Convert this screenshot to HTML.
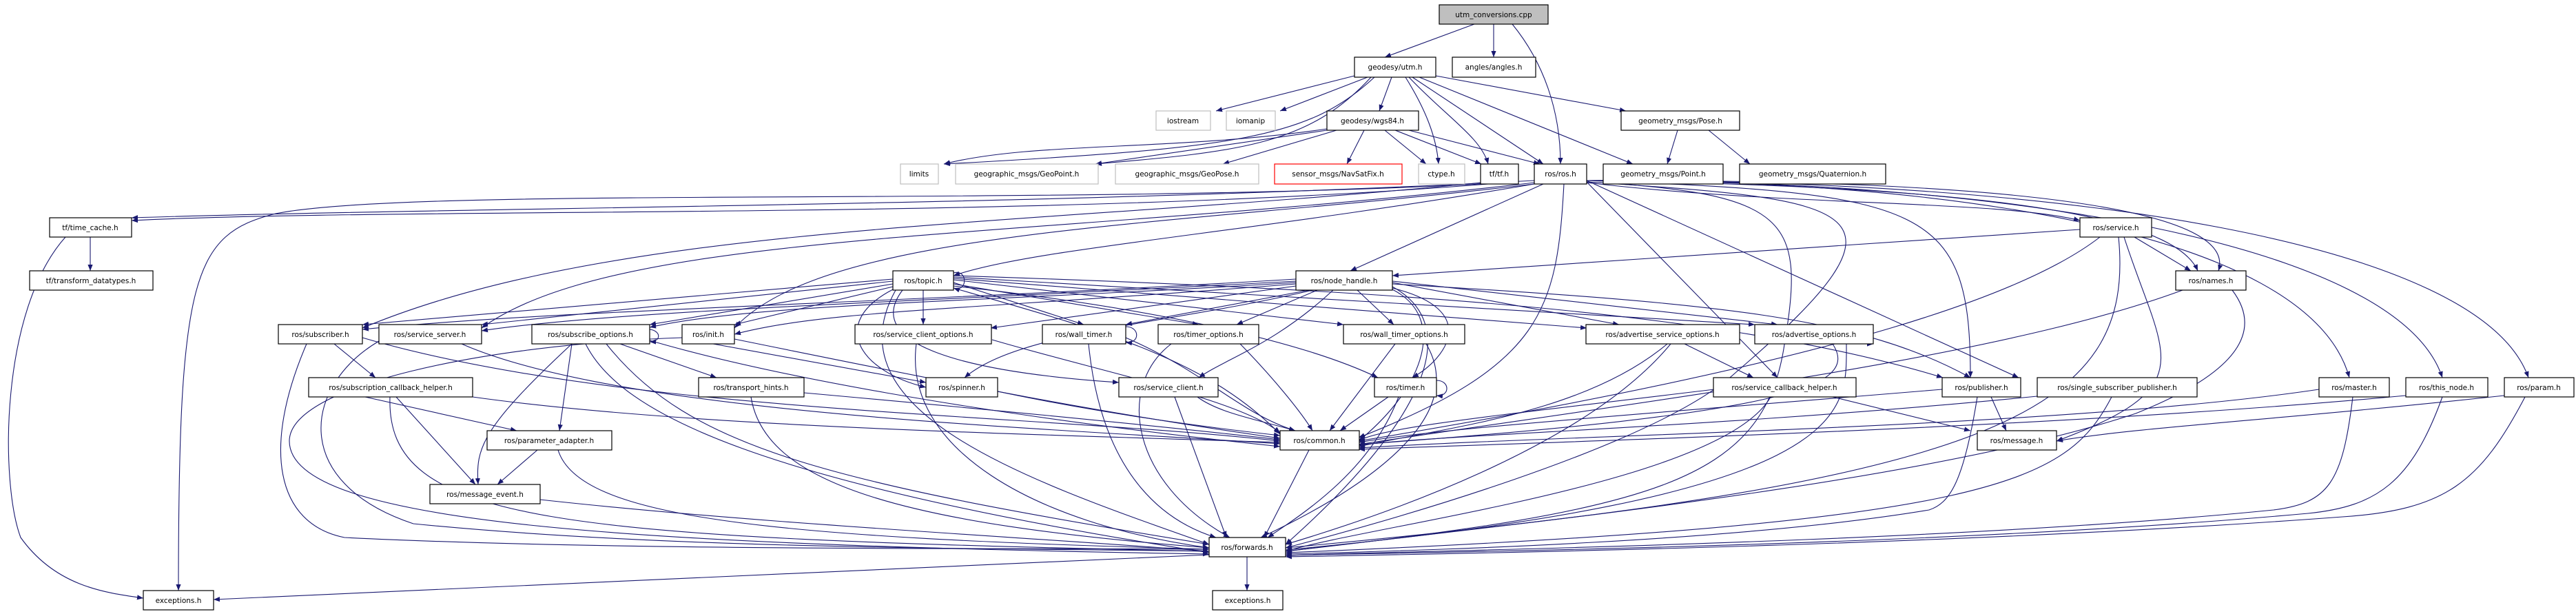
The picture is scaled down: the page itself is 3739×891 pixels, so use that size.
<!DOCTYPE html>
<html><head><meta charset="utf-8"><style>
html,body{margin:0;padding:0;background:#fff;}
svg{display:block;}
.n rect{fill:#fff;stroke:#000;stroke-width:1.2;}
.g rect{fill:#fff;stroke:#bfbfbf;stroke-width:1.2;}
.r rect{fill:#fff;stroke:#ff0000;stroke-width:1.2;}
text{font-family:"DejaVu Sans","Liberation Sans",sans-serif;font-size:10.5px;fill:#000;text-anchor:middle;}
.e path{fill:none;stroke:#191970;stroke-width:1.1;marker-end:url(#a);}
</style></head><body>
<svg width="3739" height="891" viewBox="0 0 3739 891" xmlns="http://www.w3.org/2000/svg">
<defs><marker id="a" viewBox="0 0 10 10" refX="10" refY="5" markerWidth="9" markerHeight="9" markerUnits="userSpaceOnUse" orient="auto"><path d="M0,1 L10,5 L0,9 z" fill="#191970"/></marker></defs>
<g class="e">
<path d="M2140 35 L2010 83"/>
<path d="M2168 35 L2168 83"/>
<path d="M2195 35 C2240 90 2265 160 2265 238"/>
<path d="M1966 110 L1765 161"/>
<path d="M1985 112 L1858 161"/>
<path d="M2020 112 L2002 161"/>
<path d="M1995 112 C1900 200 1800 215 1370 238"/>
<path d="M1990 112 C1900 210 1800 220 1590 238"/>
<path d="M2040 112 C2070 160 2085 200 2088 238"/>
<path d="M2045 112 C2100 170 2150 200 2160 238"/>
<path d="M2050 112 L2240 238"/>
<path d="M2060 112 L2370 238"/>
<path d="M2084 110 L2360 161"/>
<path d="M1926 187 C1700 220 1500 205 1370 238"/>
<path d="M1926 189 L1590 238"/>
<path d="M1940 189 L1775 238"/>
<path d="M1980 189 L1955 238"/>
<path d="M2010 189 L2070 238"/>
<path d="M2025 189 L2150 238"/>
<path d="M2045 189 L2235 238"/>
<path d="M2435 189 L2420 238"/>
<path d="M2480 189 L2540 238"/>
<path d="M2160 267 C1500 320 600 300 191 320"/>
<path d="M2150 267 C1500 300 600 270 400 310 C280 340 259 400 259 857"/>
<path d="M2150 265 C1500 330 900 320 526 476"/>
<path d="M2227 265 C1500 350 900 330 699 476"/>
<path d="M2227 267 C1700 330 1200 330 1066 476"/>
<path d="M2227 262 C1500 300 700 300 191 316"/>
<path d="M2240 267 L1960 393"/>
<path d="M2227 267 C1800 340 1500 360 1384 400"/>
<path d="M2303 265 C2600 300 2900 290 3019 320"/>
<path d="M2303 262 C2800 270 3150 300 3190 393"/>
<path d="M2303 262 C2900 260 3250 300 3220 393"/>
<path d="M2303 262 C2800 280 2860 300 2860 548"/>
<path d="M2303 262 L2930 548"/>
<path d="M2303 262 C2800 260 3350 330 3410 548"/>
<path d="M2303 262 C2900 260 3480 350 3545 548"/>
<path d="M2303 262 C3000 260 3600 350 3670 548"/>
<path d="M2270 267 C2260 450 2240 530 1972 635"/>
<path d="M2303 264 C2700 290 2800 300 2520 540 C2400 650 2000 760 1866 795"/>
<path d="M2303 264 L2580 548"/>
<path d="M2303 264 C2600 280 2620 320 2590 500 C2560 700 2400 740 1866 800"/>
<path d="M3019 333 L2021 400"/>
<path d="M3098 344 L3180 393"/>
<path d="M3048 344 C2950 420 2700 520 1972 640"/>
<path d="M3075 344 C3100 600 2900 700 1866 795"/>
<path d="M3083 344 C3140 520 3200 560 2985 640"/>
<path d="M3168 421 C2900 520 2400 580 1972 645"/>
<path d="M3240 421 C3300 500 3200 560 3100 600 C2800 700 2200 760 1866 800"/>
<path d="M1881 405 C1300 440 800 450 526 478"/>
<path d="M1881 408 C1300 440 900 450 699 480"/>
<path d="M1881 410 C1400 440 1100 440 943 475"/>
<path d="M1881 412 C1400 450 1200 450 1066 485"/>
<path d="M1881 415 L1438 476"/>
<path d="M1900 421 L1634 471"/>
<path d="M1912 421 L1795 471"/>
<path d="M1970 421 L2023 471"/>
<path d="M2021 410 L2350 471"/>
<path d="M2021 408 L2580 471"/>
<path d="M1905 421 C1700 470 1480 480 1400 548"/>
<path d="M1935 421 C1850 500 1780 520 1740 548"/>
<path d="M2021 418 C2150 450 2100 520 2050 548"/>
<path d="M2021 412 C2500 440 2700 460 2860 548"/>
<path d="M2021 420 C2100 460 2070 560 1972 640"/>
<path d="M2021 416 C2120 470 2080 600 1866 790"/>
<path d="M1340 421 L1340 471"/>
<path d="M1384 410 L1573 471"/>
<path d="M1384 412 L1740 471"/>
<path d="M1384 406 L1950 471"/>
<path d="M1384 404 L2303 476"/>
<path d="M1384 402 L2547 471"/>
<path d="M1296 405 L526 471"/>
<path d="M1296 408 L699 471"/>
<path d="M1296 412 L943 471"/>
<path d="M1296 416 L1066 471"/>
<path d="M1296 420 C1200 470 1250 540 1344 562"/>
<path d="M1310 421 C1250 500 1400 540 1624 555"/>
<path d="M1384 415 C1700 450 1900 500 2000 548"/>
<path d="M1384 400 C2000 420 2500 450 2820 548"/>
<path d="M1384 418 C1600 480 1750 520 1858 630"/>
<path d="M1300 421 C1200 600 1500 700 1755 790"/>
<path d="M1384 396 C1405 390 1405 425 1384 418"/>
<path d="M485 499 L545 548"/>
<path d="M445 499 C380 650 400 760 500 780 C900 800 1500 795 1755 797"/>
<path d="M526 490 C900 600 1500 600 1858 640"/>
<path d="M550 495 C440 560 420 700 600 760 C1000 800 1500 795 1755 800"/>
<path d="M670 499 C900 600 1500 620 1858 644"/>
<path d="M830 499 L812 625"/>
<path d="M830 499 C700 620 690 650 694 703"/>
<path d="M900 499 L1040 548"/>
<path d="M880 499 C1000 650 1200 700 1755 790"/>
<path d="M943 494 C1100 540 1400 600 1858 648"/>
<path d="M850 499 C900 600 1100 700 1755 802"/>
<path d="M943 478 C960 480 960 496 943 496"/>
<path d="M1035 499 L1344 555"/>
<path d="M1066 492 C1400 560 1600 600 1858 636"/>
<path d="M990 490 C700 500 420 560 420 640 C420 760 900 790 1755 804"/>
<path d="M1440 493 C1600 540 1800 580 1858 628"/>
<path d="M1330 499 C1310 650 1500 760 1755 795"/>
<path d="M1580 499 C1600 700 1700 760 1765 780"/>
<path d="M1634 490 C1750 540 1800 600 1880 625"/>
<path d="M1634 474 C1655 474 1655 499 1634 497"/>
<path d="M1800 499 C1850 550 1890 600 1905 625"/>
<path d="M1700 499 C1620 560 1640 700 1785 780"/>
<path d="M2025 499 L1930 625"/>
<path d="M2070 499 C2130 600 2000 700 1830 780"/>
<path d="M2420 499 C2300 600 2100 620 1972 648"/>
<path d="M2425 499 C2300 650 2000 750 1866 790"/>
<path d="M2445 499 L2545 548"/>
<path d="M2660 499 C2700 560 2600 600 1972 645"/>
<path d="M2680 499 C2680 600 2700 720 1866 798"/>
<path d="M2680 474 C2700 474 2700 499 2719 499"/>
<path d="M530 576 L750 625"/>
<path d="M575 576 L690 703"/>
<path d="M566 576 C560 760 800 780 1755 800"/>
<path d="M686 576 C1000 620 1500 630 1858 642"/>
<path d="M1090 576 C1110 700 1300 760 1755 795"/>
<path d="M1167 570 C1500 600 1700 620 1858 638"/>
<path d="M780 653 L722 703"/>
<path d="M810 653 C840 750 1100 780 1755 797"/>
<path d="M784 725 C1100 760 1500 780 1755 800"/>
<path d="M1448 568 C1600 600 1750 620 1858 632"/>
<path d="M1738 576 C1770 600 1830 610 1880 625"/>
<path d="M1705 576 L1780 780"/>
<path d="M2015 576 L1945 625"/>
<path d="M2030 576 C1990 680 1900 740 1840 780"/>
<path d="M2085 552 C2105 552 2105 576 2085 574"/>
<path d="M2570 576 C2500 700 2000 760 1866 800"/>
<path d="M2660 576 L2860 625"/>
<path d="M2488 565 C2200 600 2000 620 1972 640"/>
<path d="M2890 576 L2912 625"/>
<path d="M2819 565 C2400 600 2100 620 1972 642"/>
<path d="M2870 576 C2850 700 2830 730 2800 740 C2500 790 2000 800 1866 804"/>
<path d="M2957 575 C2500 620 2100 630 1972 646"/>
<path d="M3065 576 C3000 700 2900 760 1866 802"/>
<path d="M3366 565 C3000 620 2300 630 1972 650"/>
<path d="M3415 576 C3400 700 3380 730 3300 740 C2800 790 2000 800 1866 806"/>
<path d="M3492 574 C3000 620 2300 640 1972 652"/>
<path d="M3545 576 C3500 700 3450 735 3350 745 C2800 795 2000 802 1866 806"/>
<path d="M3635 574 C3300 610 3100 620 2985 640"/>
<path d="M3665 576 C3600 700 3550 740 3400 750 C2800 795 2000 805 1866 808"/>
<path d="M1900 653 L1835 780"/>
<path d="M1810 808 L1810 857"/>
<path d="M1755 805 L310 870"/>
<path d="M95 344 C0 450 0 700 30 780 C80 850 150 860 208 868"/>
<path d="M131 344 L131 393"/>
</g>
<g class="n"><rect x="2089" y="7" width="158" height="28" style="fill:#bfbfbf"/><text x="2168" y="25">utm_conversions.cpp</text></g>
<g class="n"><rect x="1966" y="83" width="118" height="29"/><text x="2025" y="101">geodesy/utm.h</text></g>
<g class="n"><rect x="2108" y="83" width="121" height="29"/><text x="2168" y="101">angles/angles.h</text></g>
<g class="g"><rect x="1678" y="161" width="79" height="28"/><text x="1717" y="179">iostream</text></g>
<g class="g"><rect x="1780" y="161" width="71" height="28"/><text x="1815" y="179">iomanip</text></g>
<g class="n"><rect x="1926" y="161" width="133" height="28"/><text x="1992" y="179">geodesy/wgs84.h</text></g>
<g class="n"><rect x="2353" y="161" width="172" height="28"/><text x="2439" y="179">geometry_msgs/Pose.h</text></g>
<g class="g"><rect x="1307" y="238" width="55" height="29"/><text x="1334" y="256">limits</text></g>
<g class="g"><rect x="1387" y="238" width="207" height="29"/><text x="1490" y="256">geographic_msgs/GeoPoint.h</text></g>
<g class="g"><rect x="1619" y="238" width="208" height="29"/><text x="1723" y="256">geographic_msgs/GeoPose.h</text></g>
<g class="r"><rect x="1850" y="238" width="185" height="29"/><text x="1942" y="256">sensor_msgs/NavSatFix.h</text></g>
<g class="g"><rect x="2059" y="238" width="67" height="29"/><text x="2092" y="256">ctype.h</text></g>
<g class="n"><rect x="2149" y="238" width="55" height="29"/><text x="2176" y="256">tf/tf.h</text></g>
<g class="n"><rect x="2227" y="238" width="76" height="29"/><text x="2265" y="256">ros/ros.h</text></g>
<g class="n"><rect x="2327" y="238" width="174" height="29"/><text x="2414" y="256">geometry_msgs/Point.h</text></g>
<g class="n"><rect x="2525" y="238" width="212" height="29"/><text x="2631" y="256">geometry_msgs/Quaternion.h</text></g>
<g class="n"><rect x="72" y="316" width="119" height="28"/><text x="131" y="334">tf/time_cache.h</text></g>
<g class="n"><rect x="3019" y="316" width="104" height="28"/><text x="3071" y="334">ros/service.h</text></g>
<g class="n"><rect x="43" y="393" width="179" height="28"/><text x="132" y="411">tf/transform_datatypes.h</text></g>
<g class="n"><rect x="1296" y="393" width="88" height="28"/><text x="1340" y="411">ros/topic.h</text></g>
<g class="n"><rect x="1881" y="393" width="140" height="28"/><text x="1951" y="411">ros/node_handle.h</text></g>
<g class="n"><rect x="3158" y="393" width="102" height="28"/><text x="3209" y="411">ros/names.h</text></g>
<g class="n"><rect x="404" y="471" width="122" height="28"/><text x="465" y="489">ros/subscriber.h</text></g>
<g class="n"><rect x="550" y="471" width="149" height="28"/><text x="624" y="489">ros/service_server.h</text></g>
<g class="n"><rect x="772" y="471" width="171" height="28"/><text x="857" y="489">ros/subscribe_options.h</text></g>
<g class="n"><rect x="990" y="471" width="76" height="28"/><text x="1028" y="489">ros/init.h</text></g>
<g class="n"><rect x="1241" y="471" width="198" height="28"/><text x="1340" y="489">ros/service_client_options.h</text></g>
<g class="n"><rect x="1513" y="471" width="121" height="28"/><text x="1573" y="489">ros/wall_timer.h</text></g>
<g class="n"><rect x="1681" y="471" width="146" height="28"/><text x="1754" y="489">ros/timer_options.h</text></g>
<g class="n"><rect x="1950" y="471" width="176" height="28"/><text x="2038" y="489">ros/wall_timer_options.h</text></g>
<g class="n"><rect x="2302" y="471" width="223" height="28"/><text x="2413" y="489">ros/advertise_service_options.h</text></g>
<g class="n"><rect x="2547" y="471" width="172" height="28"/><text x="2633" y="489">ros/advertise_options.h</text></g>
<g class="n"><rect x="448" y="548" width="238" height="28"/><text x="567" y="566">ros/subscription_callback_helper.h</text></g>
<g class="n"><rect x="1014" y="548" width="153" height="28"/><text x="1090" y="566">ros/transport_hints.h</text></g>
<g class="n"><rect x="1344" y="548" width="104" height="28"/><text x="1396" y="566">ros/spinner.h</text></g>
<g class="n"><rect x="1624" y="548" width="144" height="28"/><text x="1696" y="566">ros/service_client.h</text></g>
<g class="n"><rect x="1995" y="548" width="90" height="28"/><text x="2040" y="566">ros/timer.h</text></g>
<g class="n"><rect x="2487" y="548" width="207" height="28"/><text x="2590" y="566">ros/service_callback_helper.h</text></g>
<g class="n"><rect x="2819" y="548" width="114" height="28"/><text x="2876" y="566">ros/publisher.h</text></g>
<g class="n"><rect x="2957" y="548" width="232" height="28"/><text x="3073" y="566">ros/single_subscriber_publisher.h</text></g>
<g class="n"><rect x="3366" y="548" width="102" height="28"/><text x="3417" y="566">ros/master.h</text></g>
<g class="n"><rect x="3492" y="548" width="119" height="28"/><text x="3551" y="566">ros/this_node.h</text></g>
<g class="n"><rect x="3635" y="548" width="101" height="28"/><text x="3685" y="566">ros/param.h</text></g>
<g class="n"><rect x="707" y="625" width="181" height="28"/><text x="797" y="643">ros/parameter_adapter.h</text></g>
<g class="n"><rect x="1858" y="625" width="115" height="28"/><text x="1915" y="643">ros/common.h</text></g>
<g class="n"><rect x="2870" y="625" width="115" height="28"/><text x="2927" y="643">ros/message.h</text></g>
<g class="n"><rect x="624" y="703" width="160" height="28"/><text x="704" y="721">ros/message_event.h</text></g>
<g class="n"><rect x="1755" y="780" width="111" height="28"/><text x="1810" y="798">ros/forwards.h</text></g>
<g class="n"><rect x="208" y="857" width="102" height="28"/><text x="259" y="875">exceptions.h</text></g>
<g class="n"><rect x="1760" y="857" width="102" height="28"/><text x="1811" y="875">exceptions.h</text></g>
</svg>
</body></html>
